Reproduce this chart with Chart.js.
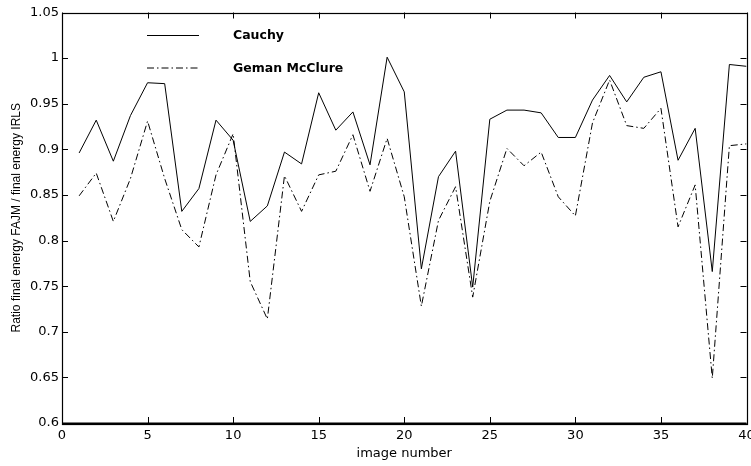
<!DOCTYPE html>
<html>
<head>
<meta charset="utf-8">
<script src="https://cdn.jsdelivr.net/npm/chart.js@4.4.1/dist/chart.umd.min.js"></script>
<style>
  html, body { margin: 0; padding: 0; background: #fff; }
  #wrap { width: 751px; height: 466px; }
</style>
</head>
<body>
<div id="wrap"><canvas id="myChart" width="751" height="466"></canvas></div>
<script>
// image numbers on the x axis
const imageNumbers = [1, 2, 3, 4, 5, 6, 7, 8, 9, 10, 11, 12, 13, 14, 15, 16, 17, 18, 19, 20,
  21, 22, 23, 24, 25, 26, 27, 28, 29, 30, 31, 32, 33, 34, 35, 36, 37, 38, 39, 40];

// ratio final energy FAJM / final energy IRLS
const cauchy = [0.896, 0.932, 0.887, 0.937, 0.973, 0.972, 0.832, 0.857, 0.932, 0.910,
  0.821, 0.838, 0.897, 0.884, 0.962, 0.921, 0.941, 0.883, 1.001, 0.963,
  0.769, 0.870, 0.898, 0.749, 0.933, 0.943, 0.943, 0.940, 0.913, 0.913,
  0.954, 0.981, 0.952, 0.979, 0.985, 0.888, 0.923, 0.766, 0.993, 0.991];

const gemanMcClure = [0.849, 0.874, 0.821, 0.868, 0.931, 0.868, 0.812, 0.793, 0.872, 0.917,
  0.755, 0.714, 0.871, 0.832, 0.872, 0.876, 0.916, 0.854, 0.912, 0.848,
  0.728, 0.822, 0.859, 0.738, 0.843, 0.901, 0.882, 0.897, 0.848, 0.827,
  0.929, 0.976, 0.926, 0.923, 0.945, 0.815, 0.861, 0.649, 0.904, 0.906];

const seriesNames = ['Cauchy', 'Geman McClure'];
const xTitle = 'image number';
const yTitle = 'Ratio final energy FAJM / final energy IRLS';

(() => {
  'use strict';

  const toPoints = (vals) => imageNumbers.map((n, i) => ({ x: n, y: vals[i] }));
  const tickFont = { family: '"DejaVu Sans", sans-serif', size: 13 };

  // box around the plot with inward tick marks (matlab style)
  const boxTicks = {
    id: 'boxTicks',
    afterDraw(chart) {
      const { ctx, chartArea: a, scales: { x, y } } = chart;
      const len = 6;
      ctx.save();
      ctx.strokeStyle = '#000';
      ctx.lineWidth = 1;
      ctx.beginPath();
      x.ticks.forEach(t => {
        const px = Math.round(x.getPixelForValue(t.value)) + 0.5;
        ctx.moveTo(px, a.bottom); ctx.lineTo(px, a.bottom - len);
        ctx.moveTo(px, a.top); ctx.lineTo(px, a.top + len);
      });
      y.ticks.forEach(t => {
        const py = Math.round(y.getPixelForValue(t.value)) + 0.5;
        ctx.moveTo(a.left, py); ctx.lineTo(a.left + len, py);
        ctx.moveTo(a.right, py); ctx.lineTo(a.right - len, py);
      });
      ctx.stroke();
      ctx.lineWidth = 1.2;
      ctx.strokeRect(Math.round(a.left) + 0.5, Math.round(a.top) + 0.5,
        Math.round(a.right - a.left), Math.round(a.bottom - a.top));
      // bottom and left axis a little heavier, as in the original
      ctx.lineWidth = 2;
      ctx.beginPath();
      ctx.moveTo(a.left, Math.round(a.bottom) + 0.5);
      ctx.lineTo(a.right, Math.round(a.bottom) + 0.5);
      ctx.stroke();
      ctx.restore();
    }
  };

  // legend drawn inside the axes, top-left
  const innerLegend = {
    id: 'innerLegend',
    afterDraw(chart) {
      const { ctx } = chart;
      ctx.save();
      ctx.font = 'bold 12.5px "DejaVu Sans", sans-serif';
      ctx.fillStyle = '#000';
      ctx.textBaseline = 'middle';
      chart.data.datasets.forEach((ds, i) => {
        const ly = 35 + i * 32.5;
        ctx.strokeStyle = '#000';
        ctx.lineWidth = 1;
        ctx.setLineDash(ds.borderDash || []);
        ctx.beginPath();
        ctx.moveTo(147, ly + 0.5);
        ctx.lineTo(199, ly + 0.5);
        ctx.stroke();
        ctx.setLineDash([]);
        ctx.fillText(ds.label, 233, ly + 1);
      });
      ctx.restore();
    }
  };

  const ctx = document.getElementById('myChart');
  const myChart = new Chart(ctx, {
    type: 'line',
    data: {
      datasets: [
        {
          label: seriesNames[0],
          data: toPoints(cauchy),
          borderColor: '#000',
          borderWidth: 1,
          pointRadius: 0,
          tension: 0,
          fill: false
        },
        {
          label: seriesNames[1],
          data: toPoints(gemanMcClure),
          borderColor: '#000',
          borderWidth: 1,
          borderDash: [7, 3, 1.5, 3],
          pointRadius: 0,
          tension: 0,
          fill: false
        }
      ]
    },
    options: {
      responsive: false,
      animation: false,
      events: [],
      layout: { padding: { top: 12.5, right: 4.5, left: 0, bottom: 0 } },
      plugins: {
        legend: { display: false },
        tooltip: { enabled: false }
      },
      scales: {
        x: {
          type: 'linear',
          min: 0,
          max: 40,
          grid: { display: false, tickLength: 0 },
          border: { display: false },
          ticks: { stepSize: 5, color: '#000', font: tickFont, padding: 5, maxRotation: 0 },
          title: {
            display: true,
            text: xTitle,
            color: '#000',
            font: { family: '"DejaVu Sans", sans-serif', size: 13 },
            padding: { top: 0, bottom: 5 }
          },
          afterFit(scale) {
            scale.height = 43;
            scale.paddingLeft = 0;
            scale.paddingRight = 0;
          }
        },
        y: {
          min: 0.6,
          max: 1.05,
          grid: { display: false, tickLength: 0 },
          border: { display: false },
          ticks: {
            stepSize: 0.05,
            color: '#000',
            font: tickFont,
            padding: 3,
            callback: v => String(+v.toFixed(2))
          },
          title: {
            display: true,
            text: yTitle,
            color: '#000',
            font: { family: '"Liberation Sans", Arial, sans-serif', size: 12 },
            padding: { top: 9, bottom: 0 }
          },
          afterFit(scale) {
            scale.width = 62;
            scale.paddingTop = 0;
            scale.paddingBottom = 0;
          }
        }
      }
    },
    plugins: [boxTicks, innerLegend]
  });
})();
</script>
</body>
</html>
